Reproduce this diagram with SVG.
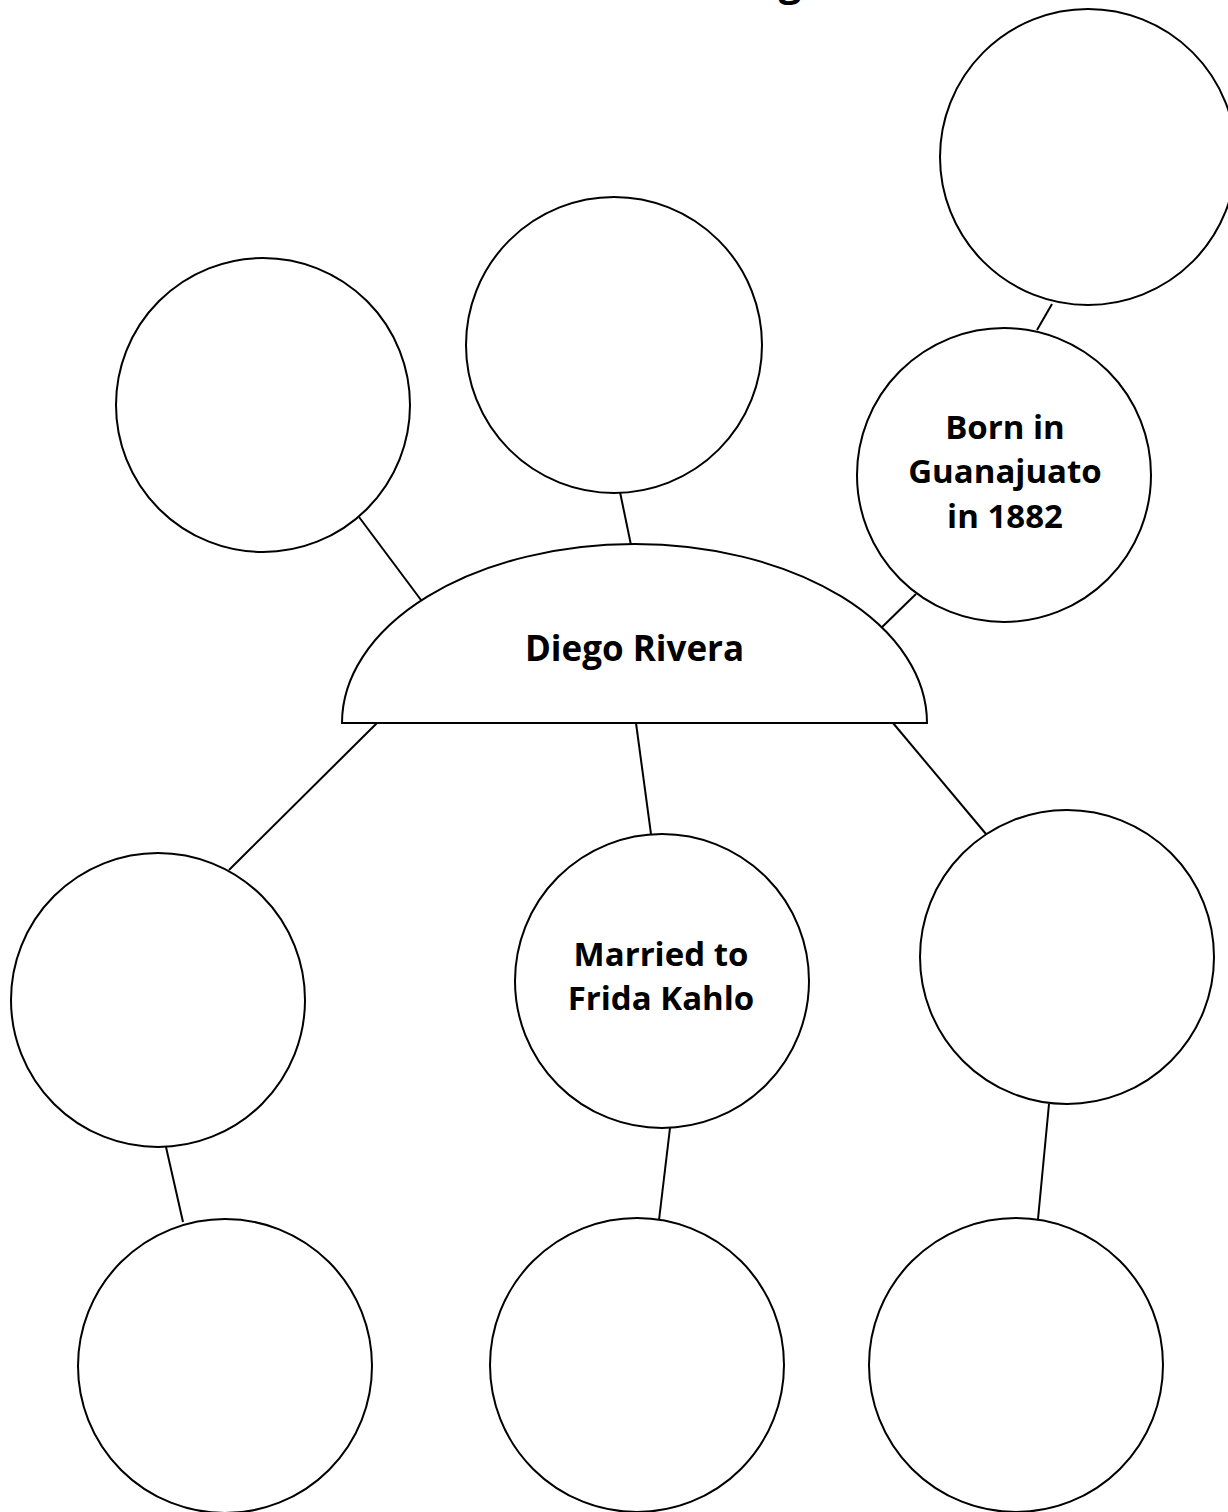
<svg xmlns="http://www.w3.org/2000/svg" width="1228" height="1512" viewBox="0 0 1228 1512">
<style>
.n{fill:#fff;stroke:#000;stroke-width:2}
.c line{stroke:#000;stroke-width:2}
.t{font-family:"Open Sans","Liberation Sans",sans-serif;font-weight:bold;font-size:33px;fill:#000;text-anchor:middle}
</style>
<rect width="1228" height="1512" fill="#fff"/>
<text class="t" x="790" y="-4" style="font-size:40px">g</text>
<g class="c" id="connectors">
<line x1="1052" y1="304" x2="1037" y2="330"/>
<line x1="359" y1="517" x2="424" y2="604"/>
<line x1="620" y1="492" x2="631" y2="545"/>
<line x1="916" y1="594" x2="877" y2="632"/>
<line x1="377" y1="723" x2="229" y2="870"/>
<line x1="636" y1="723" x2="651" y2="834"/>
<line x1="893" y1="723" x2="986" y2="834"/>
<line x1="166" y1="1147" x2="183" y2="1222"/>
<line x1="670" y1="1128" x2="659" y2="1220"/>
<line x1="1049" y1="1104" x2="1038" y2="1219"/>
</g>
<g id="center"><path class="n" d="M342,723 A292.5,179 0 0 1 927,723 Z"/><text class="t" x="634.5" y="661" style="font-size:35px">Diego Rivera</text></g>
<g id="topright"><circle class="n" cx="1088" cy="157" r="148"/></g>
<g id="topmid"><circle class="n" cx="614" cy="345" r="148"/></g>
<g id="topleft"><circle class="n" cx="263" cy="405" r="147"/></g>
<g id="born"><circle class="n" cx="1004" cy="475" r="147"/><text class="t" x="1005" y="439">Born in</text><text class="t" x="1005" y="483">Guanajuato</text><text class="t" x="1005" y="528">in 1882</text></g>
<g id="leftmid"><circle class="n" cx="158" cy="1000" r="147"/></g>
<g id="married"><circle class="n" cx="662" cy="981" r="147"/><text class="t" x="661" y="966">Married to</text><text class="t" x="661" y="1010">Frida Kahlo</text></g>
<g id="rightmid"><circle class="n" cx="1067" cy="957" r="147"/></g>
<g id="botleft"><circle class="n" cx="225" cy="1366" r="147"/></g>
<g id="botmid"><circle class="n" cx="637" cy="1365" r="147"/></g>
<g id="botright"><circle class="n" cx="1016" cy="1365" r="147"/></g>
</svg>
